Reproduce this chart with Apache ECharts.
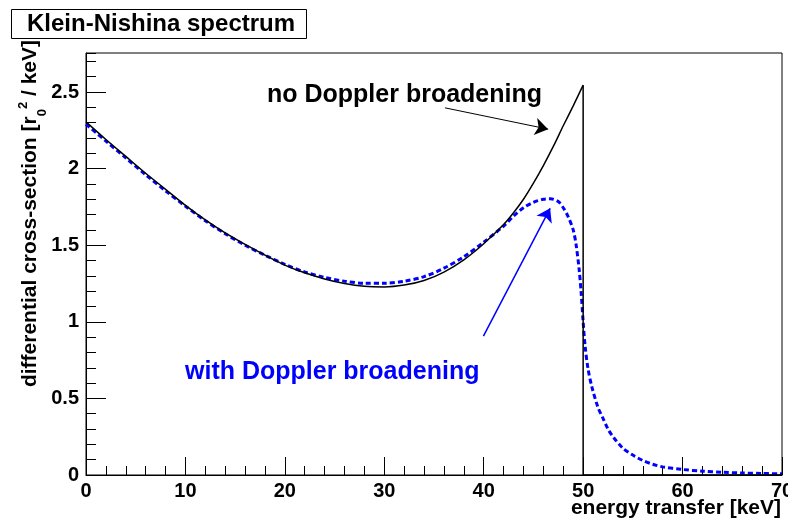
<!DOCTYPE html>
<html>
<head>
<meta charset="utf-8">
<script src="https://cdn.jsdelivr.net/npm/echarts@6/dist/echarts.min.js"></script>
<style>
html,body{margin:0;padding:0;background:#fff;}
#chart{width:788px;height:520px;}
</style>
</head>
<body>
<div id="chart"></div>
<script>
// ---- data ----
const energyNoDoppler = [0, 2, 4, 6, 8, 10, 12, 14, 16, 18, 20, 22, 24, 26, 28, 30, 32, 34, 36, 38, 40, 42, 43, 44, 45, 46, 47, 48, 49, 50];
const xsNoDoppler = [2.305, 2.19, 2.08, 1.97, 1.865, 1.76, 1.665, 1.58, 1.505, 1.435, 1.37, 1.32, 1.28, 1.25, 1.232, 1.228, 1.24, 1.27, 1.325, 1.405, 1.51, 1.635, 1.712, 1.80, 1.905, 2.02, 2.145, 2.28, 2.41, 2.545];
const edgeEnergy = [50, 50, 70];
const edgeXs = [2.545, 0, 0];

const energyDoppler = [0, 2, 4, 6, 8, 10, 12, 14, 16, 18, 20, 22, 24, 26, 28, 30, 32, 34, 36, 38, 40, 42, 43, 44, 45, 46, 46.7, 47.5, 48, 48.5, 49, 49.3, 49.6, 49.8, 50, 50.2, 50.5, 50.9, 51.5, 52, 52.5, 53, 54, 55, 56, 57, 58, 60, 62, 64, 66, 68, 70];
const xsDoppler = [2.29, 2.18, 2.07, 1.96, 1.855, 1.755, 1.66, 1.575, 1.50, 1.435, 1.375, 1.325, 1.29, 1.265, 1.252, 1.252, 1.265, 1.295, 1.35, 1.425, 1.52, 1.625, 1.69, 1.745, 1.78, 1.80, 1.803, 1.785, 1.745, 1.685, 1.60, 1.50, 1.34, 1.19, 1.00, 0.84, 0.69, 0.57, 0.44, 0.37, 0.30, 0.25, 0.175, 0.13, 0.095, 0.07, 0.053, 0.036, 0.025, 0.018, 0.013, 0.01, 0.008];

const xTicks = [0, 10, 20, 30, 40, 50, 60, 70];
const yTicks = [0, 0.5, 1, 1.5, 2, 2.5];

const arrowNoDoppler = [[36.1, 2.397], [46.48, 2.258]];
const arrowDoppler = [[39.97, 0.907], [46.68, 1.741]];

// ---- chart ----
const FONT = '"Liberation Sans", Arial, Helvetica, sans-serif';
const zip = (a, b) => a.map((v, i) => [v, b[i]]);

const chart = echarts.init(document.getElementById('chart'), null, {renderer: 'canvas'});

const labelFmt = v => {
  const ok = yTicks.some(t => Math.abs(t - v) < 1e-9);
  return ok ? String(v) : '';
};

chart.setOption({
  backgroundColor: '#fff',
  animation: false,
  grid: {left: 86, right: 6, top: 53, bottom: 45, show: true, borderColor: '#000', borderWidth: 1,
    backgroundColor: 'transparent', containLabel: false, outerBoundsMode: 'none'},
  xAxis: {
    type: 'value', min: xTicks[0], max: xTicks[xTicks.length - 1], interval: 10,
    axisLine: {show: true, lineStyle: {color: '#000', width: 1}},
    axisTick: {show: true, inside: true, length: 18, lineStyle: {color: '#000', width: 1}},
    minorTick: {show: true, splitNumber: 5, length: 9, lineStyle: {color: '#000', width: 1}},
    splitLine: {show: false},
    axisLabel: {color: '#000', fontFamily: FONT, fontWeight: 'bold', fontSize: 20, margin: 6,
      formatter: v => xTicks.includes(v) ? String(v) : ''}
  },
  yAxis: [{
    type: 'value', min: 0, max: 2.755, interval: 0.5, position: 'left',
    axisLine: {show: true, onZero: false, lineStyle: {color: '#000', width: 1}},
    axisTick: {show: true, inside: true, length: 20, lineStyle: {color: '#000', width: 1}},
    minorTick: {show: false},
    splitLine: {show: false},
    axisLabel: {color: '#000', fontFamily: FONT, fontWeight: 'bold', fontSize: 20, margin: 7, showMaxLabel: false, formatter: labelFmt}
  }, {
    type: 'value', min: 0, max: 2.755, interval: 0.1, position: 'left', offset: 0,
    axisLine: {show: false},
    axisTick: {show: true, inside: true, length: 10, lineStyle: {color: '#000', width: 1}},
    splitLine: {show: false},
    axisLabel: {show: false}
  }],
  series: [{
    name: 'with Doppler broadening',
    type: 'line', yAxisIndex: 0,
    data: zip(energyDoppler, xsDoppler),
    smooth: 0.3, showSymbol: false, symbol: 'none',
    lineStyle: {color: '#0000ff', width: 3, type: [5, 3]},
    z: 3,
    markLine: {
      silent: true, symbol: ['none', 'arrow'], symbolSize: 13,
      label: {show: false},
      lineStyle: {color: '#0000ff', width: 1.5, type: 'solid'},
      data: [[{coord: arrowDoppler[0]}, {coord: arrowDoppler[1]}]]
    }
  }, {
    name: 'no Doppler broadening',
    type: 'line', yAxisIndex: 0,
    data: zip(energyNoDoppler, xsNoDoppler),
    smooth: 0.3, showSymbol: false, symbol: 'none',
    lineStyle: {color: '#000', width: 1.5},
    z: 4,
    markLine: {
      silent: true, symbol: ['none', 'arrow'], symbolSize: 13,
      label: {show: false},
      lineStyle: {color: '#000', width: 1, type: 'solid'},
      data: [[{coord: arrowNoDoppler[0]}, {coord: arrowNoDoppler[1]}]]
    }
  }, {
    name: 'edge',
    type: 'line', yAxisIndex: 0,
    data: zip(edgeEnergy, edgeXs),
    showSymbol: false, symbol: 'none',
    lineStyle: {color: '#000', width: 1.5},
    z: 4
  }],
  graphic: [
    {type: 'rect', shape: {x: 11.5, y: 9.5, width: 295, height: 29}, style: {fill: '#fff', stroke: '#000', lineWidth: 1}},
    {type: 'text', x: 27, y: 24, style: {text: 'Klein-Nishina spectrum', fill: '#000', font: 'bold 24px ' + FONT, verticalAlign: 'middle', align: 'left'}},
    {type: 'text', x: 267, y: 95, style: {text: 'no Doppler broadening', fill: '#000', font: 'bold 25px ' + FONT, verticalAlign: 'middle', align: 'left'}},
    {type: 'text', x: 185, y: 372, style: {text: 'with Doppler broadening', fill: '#0000ff', font: 'bold 25px ' + FONT, verticalAlign: 'middle', align: 'left'}},
    {type: 'text', x: 781, y: 508, style: {text: 'energy transfer [keV]', fill: '#000', font: 'bold 21px ' + FONT, verticalAlign: 'middle', align: 'right'}},
    {type: 'text', x: 30, y: 40, rotation: Math.PI / 2,
      style: {
        text: 'differential cross-section [r{sub|0}{sup|2} / keV]',
        fill: '#000', font: 'bold 21px ' + FONT, align: 'right', verticalAlign: 'middle',
        rich: {
          sub: {fontSize: 13, fontWeight: 'bold', fontFamily: FONT, verticalAlign: 'bottom', lineHeight: 26, padding: [0, 0, -6, 0]},
          sup: {fontSize: 13, fontWeight: 'bold', fontFamily: FONT, verticalAlign: 'top', lineHeight: 26}
        }
      }}
  ]
});
</script>
</body>
</html>
